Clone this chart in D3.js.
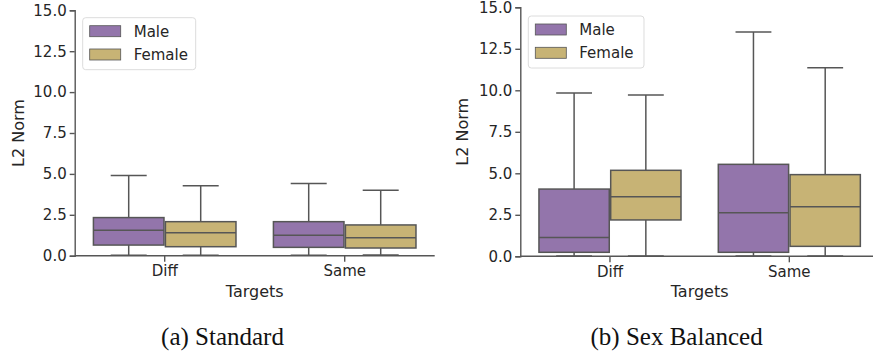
<!DOCTYPE html>
<html>
<head>
<meta charset="utf-8">
<script src="https://cdn.jsdelivr.net/npm/d3@7"></script>
<style>
  html, body { margin: 0; padding: 0; background: #fff; }
  svg { display: block; }
  text { font-family: "DejaVu Sans", sans-serif; fill: #262626; }
  .caption { font-family: "Liberation Serif", "Times New Roman", serif; fill: #111; }
</style>
</head>
<body>
<svg id="chart" width="873" height="358"></svg>
<script>
// Targets on the x axis, sex groups as hue
const categories = ["Diff", "Same"];
const groups = ["Male", "Female"];
const yTicks = [0, 2.5, 5, 7.5, 10, 12.5, 15];

// Box statistics per target: [lower whisker, Q1, median, Q3, upper whisker]
const standardMale   = [[0.02, 0.65, 1.55, 2.33, 4.90], [0.02, 0.51, 1.25, 2.08, 4.41]];
const standardFemale = [[0.02, 0.55, 1.41, 2.08, 4.27], [0.05, 0.47, 1.10, 1.88, 4.00]];
const balancedMale   = [[0.02, 0.24, 1.14, 4.05, 9.84], [0.02, 0.24, 2.63, 5.54, 13.51]];
const balancedFemale = [[0.02, 2.19, 3.59, 5.18, 9.72], [0.02, 0.60, 2.99, 4.92, 11.36]];

const colors = { Male: "#9375ab", Female: "#c7b375" };
const lineColor = "#565656";

const svg = d3.select("#chart");

function drawPanel(opt) {
  const g = svg.append("g");
  const x = d3.scaleBand().domain(categories).range([opt.x0, opt.x1]);
  const hue = d3.scaleBand().domain(groups).range([0, x.bandwidth() * 0.8]);
  const y = d3.scaleLinear().domain([0, 15]).range([opt.yBottom, opt.yTop]);
  const series = { Male: opt.male, Female: opt.female };

  // y axis
  const yAxis = g.append("g")
    .attr("transform", `translate(${opt.x0},0)`)
    .call(d3.axisLeft(y).tickValues(yTicks).tickFormat(d3.format(".1f")).tickSize(5).tickPadding(3));
  yAxis.select(".domain").attr("stroke", lineColor).attr("stroke-width", 1.4);
  yAxis.selectAll(".tick line").attr("stroke", lineColor).attr("stroke-width", 1.4);
  yAxis.selectAll(".tick text").attr("font-size", 15).attr("fill", "#262626")
    .attr("font-family", "DejaVu Sans, sans-serif");

  // x axis
  const xAxis = g.append("g")
    .attr("transform", `translate(0,${opt.yBottom})`)
    .call(d3.axisBottom(x).tickSize(6).tickSizeOuter(0).tickPadding(4));
  xAxis.select(".domain").attr("stroke", lineColor).attr("stroke-width", 1.4)
    .attr("d", `M${opt.x0},0H${opt.x1}`);
  xAxis.selectAll(".tick line").attr("stroke", lineColor).attr("stroke-width", 1.4);
  xAxis.selectAll(".tick text").attr("font-size", 15).attr("fill", "#262626")
    .attr("font-family", "DejaVu Sans, sans-serif");

  // boxes
  categories.forEach((cat, ci) => {
    groups.forEach(grp => {
      const [lo, q1, med, q3, hi] = series[grp][ci];
      const left = x(cat) + x.bandwidth() * 0.1 + hue(grp);
      const w = hue.bandwidth();
      const inset = w * 0.01;
      const bx = left + inset, bw = w - 2 * inset;
      const cx = left + w / 2;
      const capHalf = w / 4;
      const bg = g.append("g");
      // whiskers
      bg.append("line").attr("x1", cx).attr("x2", cx).attr("y1", y(q3)).attr("y2", y(hi))
        .attr("stroke", lineColor).attr("stroke-width", 1.5);
      bg.append("line").attr("x1", cx).attr("x2", cx).attr("y1", y(q1)).attr("y2", y(lo))
        .attr("stroke", lineColor).attr("stroke-width", 1.5);
      // caps
      [lo, hi].forEach(v => {
        bg.append("line").attr("x1", cx - capHalf).attr("x2", cx + capHalf)
          .attr("y1", y(v)).attr("y2", y(v))
          .attr("stroke", lineColor).attr("stroke-width", 1.5);
      });
      // box
      bg.append("rect").attr("x", bx).attr("width", bw)
        .attr("y", y(q3)).attr("height", y(q1) - y(q3))
        .attr("fill", colors[grp]).attr("stroke", lineColor).attr("stroke-width", 1.5);
      // median
      bg.append("line").attr("x1", bx).attr("x2", bx + bw).attr("y1", y(med)).attr("y2", y(med))
        .attr("stroke", lineColor).attr("stroke-width", 1.5);
    });
  });

  // axis labels
  g.append("text").attr("class", "label")
    .attr("transform", `translate(${opt.yLabelX},${(opt.yTop + opt.yBottom) / 2}) rotate(-90)`)
    .attr("text-anchor", "middle").attr("font-size", 16).text("L2 Norm");
  g.append("text").attr("class", "label")
    .attr("x", (opt.x0 + opt.x1) / 2).attr("y", opt.yBottom + 41)
    .attr("text-anchor", "middle").attr("font-size", 16).text("Targets");

  // legend
  const lg = g.append("g").attr("transform", `translate(${opt.legendX},${opt.legendY})`);
  lg.append("rect").attr("x", 0).attr("y", 0).attr("width", opt.legendW).attr("height", 52)
    .attr("rx", 3).attr("fill", "#fff").attr("fill-opacity", 0.8)
    .attr("stroke", "#dcdcdc").attr("stroke-width", 1);
  groups.forEach((grp, i) => {
    const row = lg.append("g").attr("transform", `translate(0,${8 + i * 23.3})`);
    row.append("rect").attr("x", 7).attr("y", 0).attr("width", 31).attr("height", 11)
      .attr("fill", colors[grp]).attr("stroke", lineColor).attr("stroke-width", 0.8);
    row.append("text").attr("x", 51).attr("y", 11).attr("font-size", 15).text(grp);
  });

  // caption
  svg.append("text").attr("class", "caption")
    .attr("x", opt.captionX).attr("y", 345).attr("text-anchor", "middle")
    .attr("font-size", 25).text(opt.caption);
}

drawPanel({
  x0: 74.7, x1: 434.7, yTop: 10.3, yBottom: 255.7,
  male: standardMale, female: standardFemale,
  yLabelX: 24, legendX: 82.7, legendY: 17.7, legendW: 113,
  caption: "(a) Standard", captionX: 222.5
});

drawPanel({
  x0: 520.3, x1: 879, yTop: 7.3, yBottom: 256.3,
  male: balancedMale, female: balancedFemale,
  yLabelX: 468.3, legendX: 528.3, legendY: 16, legendW: 115.7,
  caption: "(b) Sex Balanced", captionX: 676.6
});
</script>
</body>
</html>
